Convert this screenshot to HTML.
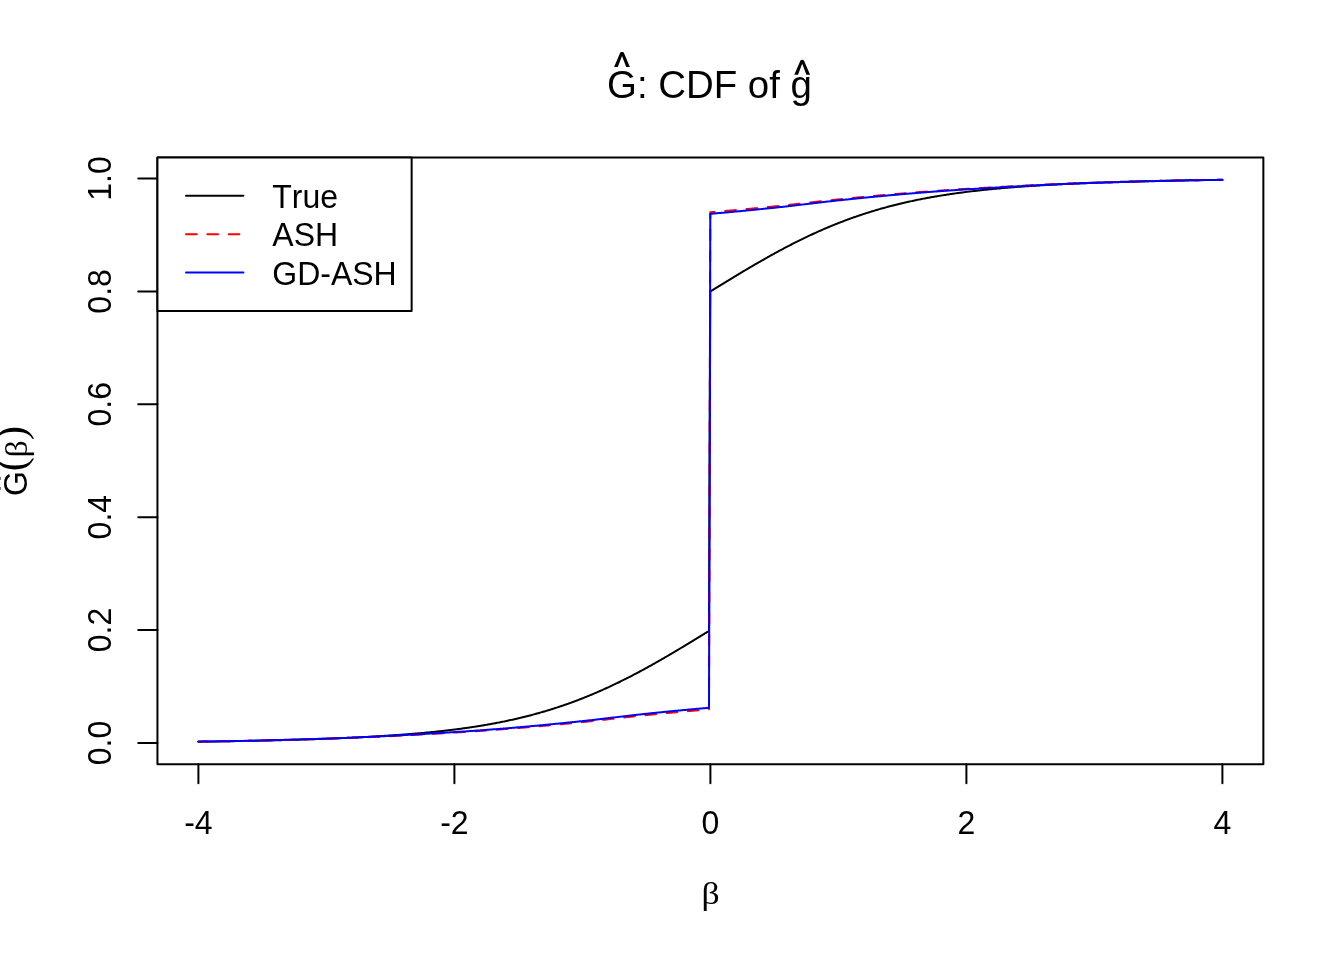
<!DOCTYPE html>
<html><head><meta charset="utf-8"><style>
html,body{margin:0;padding:0;background:#fff;}
svg{display:block;}
text{font-family:"Liberation Sans",sans-serif;font-size:32px;fill:#000;font-kerning:none;font-feature-settings:"kern" 0,"liga" 0;}
</style></head><body>
<svg width="1344" height="960" viewBox="0 0 1344 960">
<rect width="1344" height="960" fill="#fff"/>
<g fill="none" stroke-linecap="round" stroke-linejoin="round" stroke-width="2">
<path d="M198.40,741.68 L199.42,741.66 L200.45,741.65 L201.47,741.64 L202.49,741.62 L203.52,741.61 L204.54,741.60 L205.56,741.58 L206.59,741.57 L207.61,741.55 L208.63,741.54 L209.66,741.52 L210.68,741.51 L211.70,741.50 L212.73,741.48 L213.75,741.47 L214.77,741.45 L215.80,741.44 L216.82,741.42 L217.84,741.40 L218.86,741.39 L219.89,741.37 L220.91,741.36 L221.93,741.34 L222.96,741.33 L223.98,741.31 L225.00,741.29 L226.03,741.28 L227.05,741.26 L228.07,741.24 L229.10,741.22 L230.12,741.21 L231.14,741.19 L232.17,741.17 L233.19,741.16 L234.21,741.14 L235.24,741.12 L236.26,741.10 L237.28,741.08 L238.31,741.06 L239.33,741.05 L240.35,741.03 L241.38,741.01 L242.40,740.99 L243.42,740.97 L244.45,740.95 L245.47,740.93 L246.49,740.91 L247.52,740.89 L248.54,740.87 L249.56,740.85 L250.59,740.83 L251.61,740.81 L252.63,740.79 L253.66,740.77 L254.68,740.75 L255.70,740.73 L256.73,740.70 L257.75,740.68 L258.77,740.66 L259.79,740.64 L260.82,740.62 L261.84,740.59 L262.86,740.57 L263.89,740.55 L264.91,740.53 L265.93,740.50 L266.96,740.48 L267.98,740.46 L269.00,740.43 L270.03,740.41 L271.05,740.38 L272.07,740.36 L273.10,740.33 L274.12,740.31 L275.14,740.28 L276.17,740.26 L277.19,740.23 L278.21,740.21 L279.24,740.18 L280.26,740.16 L281.28,740.13 L282.31,740.10 L283.33,740.08 L284.35,740.05 L285.38,740.02 L286.40,739.99 L287.42,739.97 L288.45,739.94 L289.47,739.91 L290.49,739.88 L291.52,739.85 L292.54,739.83 L293.56,739.80 L294.59,739.77 L295.61,739.74 L296.63,739.71 L297.65,739.68 L298.68,739.65 L299.70,739.62 L300.72,739.59 L301.75,739.55 L302.77,739.52 L303.79,739.49 L304.82,739.46 L305.84,739.43 L306.86,739.39 L307.89,739.36 L308.91,739.33 L309.93,739.30 L310.96,739.26 L311.98,739.23 L313.00,739.19 L314.03,739.16 L315.05,739.12 L316.07,739.09 L317.10,739.05 L318.12,739.02 L319.14,738.98 L320.17,738.95 L321.19,738.91 L322.21,738.87 L323.24,738.83 L324.26,738.80 L325.28,738.76 L326.31,738.72 L327.33,738.68 L328.35,738.64 L329.38,738.60 L330.40,738.56 L331.42,738.52 L332.45,738.48 L333.47,738.44 L334.49,738.40 L335.52,738.36 L336.54,738.32 L337.56,738.28 L338.58,738.23 L339.61,738.19 L340.63,738.15 L341.65,738.10 L342.68,738.06 L343.70,738.02 L344.72,737.97 L345.75,737.93 L346.77,737.88 L347.79,737.83 L348.82,737.79 L349.84,737.74 L350.86,737.69 L351.89,737.65 L352.91,737.60 L353.93,737.55 L354.96,737.50 L355.98,737.45 L357.00,737.40 L358.03,737.35 L359.05,737.30 L360.07,737.25 L361.10,737.20 L362.12,737.14 L363.14,737.09 L364.17,737.04 L365.19,736.98 L366.21,736.93 L367.24,736.88 L368.26,736.82 L369.28,736.76 L370.31,736.71 L371.33,736.65 L372.35,736.59 L373.38,736.54 L374.40,736.48 L375.42,736.42 L376.44,736.36 L377.47,736.30 L378.49,736.24 L379.51,736.18 L380.54,736.11 L381.56,736.05 L382.58,735.99 L383.61,735.93 L384.63,735.86 L385.65,735.80 L386.68,735.73 L387.70,735.66 L388.72,735.60 L389.75,735.53 L390.77,735.46 L391.79,735.39 L392.82,735.32 L393.84,735.25 L394.86,735.18 L395.89,735.11 L396.91,735.04 L397.93,734.97 L398.96,734.89 L399.98,734.82 L401.00,734.74 L402.03,734.67 L403.05,734.59 L404.07,734.51 L405.10,734.43 L406.12,734.36 L407.14,734.28 L408.17,734.19 L409.19,734.11 L410.21,734.03 L411.24,733.95 L412.26,733.86 L413.28,733.78 L414.31,733.69 L415.33,733.61 L416.35,733.52 L417.37,733.43 L418.40,733.34 L419.42,733.25 L420.44,733.16 L421.47,733.07 L422.49,732.98 L423.51,732.88 L424.54,732.79 L425.56,732.69 L426.58,732.60 L427.61,732.50 L428.63,732.40 L429.65,732.30 L430.68,732.20 L431.70,732.10 L432.72,731.99 L433.75,731.89 L434.77,731.79 L435.79,731.68 L436.82,731.57 L437.84,731.46 L438.86,731.35 L439.89,731.24 L440.91,731.13 L441.93,731.02 L442.96,730.91 L443.98,730.79 L445.00,730.67 L446.03,730.56 L447.05,730.44 L448.07,730.32 L449.10,730.20 L450.12,730.07 L451.14,729.95 L452.17,729.82 L453.19,729.70 L454.21,729.57 L455.23,729.44 L456.26,729.31 L457.28,729.18 L458.30,729.05 L459.33,728.91 L460.35,728.78 L461.37,728.64 L462.40,728.50 L463.42,728.36 L464.44,728.22 L465.47,728.07 L466.49,727.93 L467.51,727.78 L468.54,727.64 L469.56,727.49 L470.58,727.34 L471.61,727.18 L472.63,727.03 L473.65,726.88 L474.68,726.72 L475.70,726.56 L476.72,726.40 L477.75,726.24 L478.77,726.07 L479.79,725.91 L480.82,725.74 L481.84,725.57 L482.86,725.40 L483.89,725.23 L484.91,725.06 L485.93,724.88 L486.96,724.70 L487.98,724.53 L489.00,724.34 L490.03,724.16 L491.05,723.98 L492.07,723.79 L493.09,723.60 L494.12,723.41 L495.14,723.22 L496.16,723.03 L497.19,722.83 L498.21,722.63 L499.23,722.43 L500.26,722.23 L501.28,722.03 L502.30,721.82 L503.33,721.61 L504.35,721.40 L505.37,721.19 L506.40,720.98 L507.42,720.76 L508.44,720.54 L509.47,720.32 L510.49,720.10 L511.51,719.87 L512.54,719.65 L513.56,719.42 L514.58,719.19 L515.61,718.95 L516.63,718.72 L517.65,718.48 L518.68,718.24 L519.70,718.00 L520.72,717.75 L521.75,717.51 L522.77,717.26 L523.79,717.01 L524.82,716.75 L525.84,716.50 L526.86,716.24 L527.89,715.98 L528.91,715.71 L529.93,715.45 L530.96,715.18 L531.98,714.91 L533.00,714.64 L534.02,714.36 L535.05,714.08 L536.07,713.80 L537.09,713.52 L538.12,713.24 L539.14,712.95 L540.16,712.66 L541.19,712.36 L542.21,712.07 L543.23,711.77 L544.26,711.47 L545.28,711.17 L546.30,710.86 L547.33,710.55 L548.35,710.24 L549.37,709.93 L550.40,709.61 L551.42,709.30 L552.44,708.97 L553.47,708.65 L554.49,708.32 L555.51,707.99 L556.54,707.66 L557.56,707.33 L558.58,706.99 L559.61,706.65 L560.63,706.31 L561.65,705.96 L562.68,705.61 L563.70,705.26 L564.72,704.91 L565.75,704.55 L566.77,704.19 L567.79,703.83 L568.82,703.47 L569.84,703.10 L570.86,702.73 L571.88,702.36 L572.91,701.98 L573.93,701.60 L574.95,701.22 L575.98,700.84 L577.00,700.45 L578.02,700.06 L579.05,699.67 L580.07,699.28 L581.09,698.88 L582.12,698.48 L583.14,698.07 L584.16,697.67 L585.19,697.26 L586.21,696.85 L587.23,696.43 L588.26,696.02 L589.28,695.60 L590.30,695.17 L591.33,694.75 L592.35,694.32 L593.37,693.89 L594.40,693.45 L595.42,693.02 L596.44,692.58 L597.47,692.14 L598.49,691.69 L599.51,691.24 L600.54,690.79 L601.56,690.34 L602.58,689.88 L603.61,689.43 L604.63,688.96 L605.65,688.50 L606.68,688.03 L607.70,687.56 L608.72,687.09 L609.75,686.62 L610.77,686.14 L611.79,685.66 L612.81,685.18 L613.84,684.69 L614.86,684.20 L615.88,683.71 L616.91,683.22 L617.93,682.73 L618.95,682.23 L619.98,681.73 L621.00,681.22 L622.02,680.72 L623.05,680.21 L624.07,679.70 L625.09,679.19 L626.12,678.67 L627.14,678.15 L628.16,677.63 L629.19,677.11 L630.21,676.58 L631.23,676.06 L632.26,675.53 L633.28,674.99 L634.30,674.46 L635.33,673.92 L636.35,673.38 L637.37,672.84 L638.40,672.30 L639.42,671.75 L640.44,671.20 L641.47,670.65 L642.49,670.10 L643.51,669.55 L644.54,668.99 L645.56,668.43 L646.58,667.87 L647.61,667.31 L648.63,666.74 L649.65,666.18 L650.67,665.61 L651.70,665.04 L652.72,664.46 L653.74,663.89 L654.77,663.31 L655.79,662.73 L656.81,662.15 L657.84,661.57 L658.86,660.99 L659.88,660.40 L660.91,659.82 L661.93,659.23 L662.95,658.64 L663.98,658.05 L665.00,657.45 L666.02,656.86 L667.05,656.26 L668.07,655.66 L669.09,655.07 L670.12,654.46 L671.14,653.86 L672.16,653.26 L673.19,652.65 L674.21,652.05 L675.23,651.44 L676.26,650.83 L677.28,650.22 L678.30,649.61 L679.33,649.00 L680.35,648.39 L681.37,647.77 L682.40,647.16 L683.42,646.54 L684.44,645.92 L685.47,645.31 L686.49,644.69 L687.51,644.07 L688.54,643.45 L689.56,642.83 L690.58,642.20 L691.60,641.58 L692.63,640.96 L693.65,640.33 L694.67,639.71 L695.70,639.08 L696.72,638.46 L697.74,637.83 L698.77,637.21 L699.79,636.58 L700.81,635.95 L701.84,635.32 L702.86,634.69 L703.88,634.07 L704.91,633.44 L705.93,632.81 L706.95,632.18 L707.98,631.55 L709.00,630.92 L710.30,291.42 L711.33,290.85 L712.35,290.22 L713.38,289.59 L714.41,288.96 L715.43,288.33 L716.46,287.70 L717.48,287.07 L718.51,286.44 L719.54,285.81 L720.56,285.18 L721.59,284.55 L722.62,283.92 L723.64,283.29 L724.67,282.66 L725.69,282.03 L726.72,281.41 L727.75,280.78 L728.77,280.16 L729.80,279.53 L730.83,278.91 L731.85,278.28 L732.88,277.66 L733.90,277.04 L734.93,276.42 L735.96,275.80 L736.98,275.18 L738.01,274.56 L739.04,273.94 L740.06,273.33 L741.09,272.71 L742.11,272.10 L743.14,271.48 L744.17,270.87 L745.19,270.26 L746.22,269.65 L747.25,269.04 L748.27,268.44 L749.30,267.83 L750.32,267.23 L751.35,266.62 L752.38,266.02 L753.40,265.42 L754.43,264.82 L755.46,264.23 L756.48,263.63 L757.51,263.04 L758.53,262.44 L759.56,261.85 L760.59,261.26 L761.61,260.68 L762.64,260.09 L763.67,259.51 L764.69,258.93 L765.72,258.34 L766.74,257.77 L767.77,257.19 L768.80,256.61 L769.82,256.04 L770.85,255.47 L771.88,254.90 L772.90,254.33 L773.93,253.77 L774.95,253.21 L775.98,252.65 L777.01,252.09 L778.03,251.53 L779.06,250.98 L780.09,250.42 L781.11,249.87 L782.14,249.32 L783.16,248.78 L784.19,248.23 L785.22,247.69 L786.24,247.15 L787.27,246.62 L788.30,246.08 L789.32,245.55 L790.35,245.02 L791.37,244.49 L792.40,243.97 L793.43,243.45 L794.45,242.93 L795.48,242.41 L796.51,241.89 L797.53,241.38 L798.56,240.87 L799.58,240.36 L800.61,239.86 L801.64,239.35 L802.66,238.85 L803.69,238.36 L804.72,237.86 L805.74,237.37 L806.77,236.88 L807.79,236.39 L808.82,235.91 L809.85,235.43 L810.87,234.95 L811.90,234.47 L812.93,234.00 L813.95,233.53 L814.98,233.06 L816.00,232.59 L817.03,232.13 L818.06,231.67 L819.08,231.21 L820.11,230.76 L821.14,230.30 L822.16,229.85 L823.19,229.41 L824.21,228.96 L825.24,228.52 L826.27,228.08 L827.29,227.65 L828.32,227.22 L829.35,226.79 L830.37,226.36 L831.40,225.93 L832.42,225.51 L833.45,225.09 L834.48,224.68 L835.50,224.26 L836.53,223.85 L837.56,223.45 L838.58,223.04 L839.61,222.64 L840.63,222.24 L841.66,221.84 L842.69,221.45 L843.71,221.06 L844.74,220.67 L845.77,220.29 L846.79,219.90 L847.82,219.52 L848.84,219.15 L849.87,218.77 L850.90,218.40 L851.92,218.03 L852.95,217.67 L853.98,217.31 L855.00,216.94 L856.03,216.59 L857.05,216.23 L858.08,215.88 L859.11,215.53 L860.13,215.18 L861.16,214.84 L862.19,214.50 L863.21,214.16 L864.24,213.83 L865.26,213.49 L866.29,213.16 L867.32,212.84 L868.34,212.51 L869.37,212.19 L870.40,211.87 L871.42,211.55 L872.45,211.24 L873.47,210.93 L874.50,210.62 L875.53,210.31 L876.55,210.01 L877.58,209.70 L878.61,209.41 L879.63,209.11 L880.66,208.82 L881.68,208.53 L882.71,208.24 L883.74,207.95 L884.76,207.67 L885.79,207.39 L886.82,207.11 L887.84,206.83 L888.87,206.56 L889.89,206.29 L890.92,206.02 L891.95,205.75 L892.97,205.49 L894.00,205.23 L895.03,204.97 L896.05,204.71 L897.08,204.46 L898.10,204.20 L899.13,203.95 L900.16,203.71 L901.18,203.46 L902.21,203.22 L903.24,202.98 L904.26,202.74 L905.29,202.50 L906.31,202.27 L907.34,202.04 L908.37,201.81 L909.39,201.58 L910.42,201.36 L911.45,201.13 L912.47,200.91 L913.50,200.70 L914.52,200.48 L915.55,200.26 L916.58,200.05 L917.60,199.84 L918.63,199.63 L919.66,199.43 L920.68,199.22 L921.71,199.02 L922.73,198.82 L923.76,198.62 L924.79,198.43 L925.81,198.23 L926.84,198.04 L927.87,197.85 L928.89,197.66 L929.92,197.47 L930.94,197.29 L931.97,197.11 L933.00,196.92 L934.02,196.74 L935.05,196.57 L936.08,196.39 L937.10,196.22 L938.13,196.05 L939.15,195.87 L940.18,195.71 L941.21,195.54 L942.23,195.37 L943.26,195.21 L944.29,195.05 L945.31,194.89 L946.34,194.73 L947.36,194.57 L948.39,194.42 L949.42,194.26 L950.44,194.11 L951.47,193.96 L952.50,193.81 L953.52,193.66 L954.55,193.52 L955.57,193.37 L956.60,193.23 L957.63,193.09 L958.65,192.95 L959.68,192.81 L960.71,192.67 L961.73,192.53 L962.76,192.40 L963.78,192.27 L964.81,192.13 L965.84,192.00 L966.86,191.87 L967.89,191.75 L968.92,191.62 L969.94,191.50 L970.97,191.37 L971.99,191.25 L973.02,191.13 L974.05,191.01 L975.07,190.89 L976.10,190.77 L977.13,190.65 L978.15,190.54 L979.18,190.43 L980.20,190.31 L981.23,190.20 L982.26,190.09 L983.28,189.98 L984.31,189.87 L985.34,189.77 L986.36,189.66 L987.39,189.56 L988.41,189.45 L989.44,189.35 L990.47,189.25 L991.49,189.15 L992.52,189.05 L993.55,188.95 L994.57,188.85 L995.60,188.75 L996.62,188.66 L997.65,188.56 L998.68,188.47 L999.70,188.38 L1000.73,188.28 L1001.76,188.19 L1002.78,188.10 L1003.81,188.01 L1004.83,187.93 L1005.86,187.84 L1006.89,187.75 L1007.91,187.67 L1008.94,187.58 L1009.97,187.50 L1010.99,187.42 L1012.02,187.33 L1013.04,187.25 L1014.07,187.17 L1015.10,187.09 L1016.12,187.01 L1017.15,186.94 L1018.18,186.86 L1019.20,186.78 L1020.23,186.71 L1021.25,186.63 L1022.28,186.56 L1023.31,186.48 L1024.33,186.41 L1025.36,186.34 L1026.39,186.27 L1027.41,186.20 L1028.44,186.13 L1029.46,186.06 L1030.49,185.99 L1031.52,185.92 L1032.54,185.85 L1033.57,185.78 L1034.60,185.72 L1035.62,185.65 L1036.65,185.59 L1037.67,185.52 L1038.70,185.46 L1039.73,185.40 L1040.75,185.34 L1041.78,185.27 L1042.81,185.21 L1043.83,185.15 L1044.86,185.09 L1045.88,185.03 L1046.91,184.97 L1047.94,184.91 L1048.96,184.86 L1049.99,184.80 L1051.02,184.74 L1052.04,184.69 L1053.07,184.63 L1054.09,184.58 L1055.12,184.52 L1056.15,184.47 L1057.17,184.41 L1058.20,184.36 L1059.23,184.31 L1060.25,184.26 L1061.28,184.20 L1062.30,184.15 L1063.33,184.10 L1064.36,184.05 L1065.38,184.00 L1066.41,183.95 L1067.44,183.90 L1068.46,183.85 L1069.49,183.81 L1070.51,183.76 L1071.54,183.71 L1072.57,183.67 L1073.59,183.62 L1074.62,183.57 L1075.65,183.53 L1076.67,183.48 L1077.70,183.44 L1078.72,183.39 L1079.75,183.35 L1080.78,183.31 L1081.80,183.26 L1082.83,183.22 L1083.86,183.18 L1084.88,183.14 L1085.91,183.09 L1086.93,183.05 L1087.96,183.01 L1088.99,182.97 L1090.01,182.93 L1091.04,182.89 L1092.07,182.85 L1093.09,182.81 L1094.12,182.77 L1095.14,182.73 L1096.17,182.70 L1097.20,182.66 L1098.22,182.62 L1099.25,182.58 L1100.28,182.55 L1101.30,182.51 L1102.33,182.47 L1103.35,182.44 L1104.38,182.40 L1105.41,182.37 L1106.43,182.33 L1107.46,182.30 L1108.49,182.26 L1109.51,182.23 L1110.54,182.20 L1111.56,182.16 L1112.59,182.13 L1113.62,182.10 L1114.64,182.06 L1115.67,182.03 L1116.70,182.00 L1117.72,181.97 L1118.75,181.94 L1119.77,181.90 L1120.80,181.87 L1121.83,181.84 L1122.85,181.81 L1123.88,181.78 L1124.91,181.75 L1125.93,181.72 L1126.96,181.69 L1127.98,181.66 L1129.01,181.63 L1130.04,181.60 L1131.06,181.58 L1132.09,181.55 L1133.12,181.52 L1134.14,181.49 L1135.17,181.46 L1136.19,181.44 L1137.22,181.41 L1138.25,181.38 L1139.27,181.36 L1140.30,181.33 L1141.33,181.30 L1142.35,181.28 L1143.38,181.25 L1144.40,181.23 L1145.43,181.20 L1146.46,181.18 L1147.48,181.15 L1148.51,181.13 L1149.54,181.10 L1150.56,181.08 L1151.59,181.05 L1152.61,181.03 L1153.64,181.01 L1154.67,180.98 L1155.69,180.96 L1156.72,180.94 L1157.75,180.91 L1158.77,180.89 L1159.80,180.87 L1160.82,180.85 L1161.85,180.82 L1162.88,180.80 L1163.90,180.78 L1164.93,180.76 L1165.96,180.74 L1166.98,180.72 L1168.01,180.69 L1169.03,180.67 L1170.06,180.65 L1171.09,180.63 L1172.11,180.61 L1173.14,180.59 L1174.17,180.57 L1175.19,180.55 L1176.22,180.53 L1177.24,180.51 L1178.27,180.49 L1179.30,180.47 L1180.32,180.45 L1181.35,180.44 L1182.38,180.42 L1183.40,180.40 L1184.43,180.38 L1185.45,180.36 L1186.48,180.34 L1187.51,180.33 L1188.53,180.31 L1189.56,180.29 L1190.59,180.27 L1191.61,180.26 L1192.64,180.24 L1193.66,180.22 L1194.69,180.21 L1195.72,180.19 L1196.74,180.17 L1197.77,180.16 L1198.80,180.14 L1199.82,180.12 L1200.85,180.11 L1201.87,180.09 L1202.90,180.08 L1203.93,180.06 L1204.95,180.05 L1205.98,180.03 L1207.01,180.01 L1208.03,180.00 L1209.06,179.98 L1210.08,179.97 L1211.11,179.96 L1212.14,179.94 L1213.16,179.93 L1214.19,179.91 L1215.22,179.90 L1216.24,179.88 L1217.27,179.87 L1218.29,179.86 L1219.32,179.84 L1220.35,179.83 L1221.37,179.82 L1222.40,179.80" stroke="#000"/>
<path d="M198.40,741.65 L199.42,741.64 L200.45,741.63 L201.47,741.62 L202.49,741.61 L203.52,741.60 L204.54,741.58 L205.56,741.57 L206.59,741.56 L207.61,741.55 L208.63,741.54 L209.66,741.52 L210.68,741.51 L211.70,741.50 L212.73,741.49 L213.75,741.47 L214.77,741.46 L215.80,741.44 L216.82,741.43 L217.84,741.42 L218.86,741.40 L219.89,741.39 L220.91,741.37 L221.93,741.35 L222.96,741.34 L223.98,741.32 L225.00,741.31 L226.03,741.29 L227.05,741.27 L228.07,741.26 L229.10,741.24 L230.12,741.22 L231.14,741.20 L232.17,741.19 L233.19,741.17 L234.21,741.15 L235.24,741.13 L236.26,741.11 L237.28,741.09 L238.31,741.07 L239.33,741.05 L240.35,741.03 L241.38,741.01 L242.40,740.99 L243.42,740.97 L244.45,740.95 L245.47,740.93 L246.49,740.91 L247.52,740.89 L248.54,740.87 L249.56,740.85 L250.59,740.82 L251.61,740.80 L252.63,740.78 L253.66,740.76 L254.68,740.74 L255.70,740.71 L256.73,740.69 L257.75,740.67 L258.77,740.64 L259.79,740.62 L260.82,740.60 L261.84,740.57 L262.86,740.55 L263.89,740.52 L264.91,740.50 L265.93,740.47 L266.96,740.45 L267.98,740.42 L269.00,740.40 L270.03,740.37 L271.05,740.35 L272.07,740.32 L273.10,740.30 L274.12,740.27 L275.14,740.25 L276.17,740.22 L277.19,740.19 L278.21,740.17 L279.24,740.14 L280.26,740.11 L281.28,740.09 L282.31,740.06 L283.33,740.03 L284.35,740.01 L285.38,739.98 L286.40,739.95 L287.42,739.92 L288.45,739.89 L289.47,739.87 L290.49,739.84 L291.52,739.81 L292.54,739.78 L293.56,739.75 L294.59,739.73 L295.61,739.70 L296.63,739.67 L297.65,739.64 L298.68,739.61 L299.70,739.58 L300.72,739.55 L301.75,739.52 L302.77,739.49 L303.79,739.46 L304.82,739.43 L305.84,739.40 L306.86,739.37 L307.89,739.34 L308.91,739.31 L309.93,739.28 L310.96,739.25 L311.98,739.22 L313.00,739.19 L314.03,739.16 L315.05,739.13 L316.07,739.10 L317.10,739.07 L318.12,739.04 L319.14,739.01 L320.17,738.98 L321.19,738.95 L322.21,738.92 L323.24,738.89 L324.26,738.85 L325.28,738.82 L326.31,738.79 L327.33,738.76 L328.35,738.73 L329.38,738.70 L330.40,738.66 L331.42,738.63 L332.45,738.60 L333.47,738.56 L334.49,738.53 L335.52,738.50 L336.54,738.46 L337.56,738.42 L338.58,738.39 L339.61,738.35 L340.63,738.32 L341.65,738.28 L342.68,738.24 L343.70,738.20 L344.72,738.17 L345.75,738.13 L346.77,738.09 L347.79,738.05 L348.82,738.01 L349.84,737.97 L350.86,737.93 L351.89,737.89 L352.91,737.85 L353.93,737.81 L354.96,737.77 L355.98,737.73 L357.00,737.68 L358.03,737.64 L359.05,737.60 L360.07,737.56 L361.10,737.51 L362.12,737.47 L363.14,737.42 L364.17,737.38 L365.19,737.33 L366.21,737.29 L367.24,737.24 L368.26,737.20 L369.28,737.15 L370.31,737.11 L371.33,737.06 L372.35,737.01 L373.38,736.97 L374.40,736.92 L375.42,736.87 L376.44,736.82 L377.47,736.78 L378.49,736.73 L379.51,736.68 L380.54,736.63 L381.56,736.58 L382.58,736.53 L383.61,736.48 L384.63,736.43 L385.65,736.38 L386.68,736.33 L387.70,736.28 L388.72,736.23 L389.75,736.18 L390.77,736.13 L391.79,736.08 L392.82,736.02 L393.84,735.97 L394.86,735.92 L395.89,735.87 L396.91,735.81 L397.93,735.76 L398.96,735.71 L399.98,735.66 L401.00,735.60 L402.03,735.55 L403.05,735.49 L404.07,735.44 L405.10,735.39 L406.12,735.33 L407.14,735.28 L408.17,735.22 L409.19,735.17 L410.21,735.11 L411.24,735.06 L412.26,735.00 L413.28,734.94 L414.31,734.89 L415.33,734.83 L416.35,734.78 L417.37,734.72 L418.40,734.66 L419.42,734.61 L420.44,734.55 L421.47,734.49 L422.49,734.43 L423.51,734.38 L424.54,734.32 L425.56,734.26 L426.58,734.20 L427.61,734.15 L428.63,734.09 L429.65,734.03 L430.68,733.97 L431.70,733.91 L432.72,733.85 L433.75,733.80 L434.77,733.74 L435.79,733.68 L436.82,733.62 L437.84,733.56 L438.86,733.50 L439.89,733.44 L440.91,733.38 L441.93,733.32 L442.96,733.26 L443.98,733.20 L445.00,733.14 L446.03,733.08 L447.05,733.02 L448.07,732.96 L449.10,732.90 L450.12,732.84 L451.14,732.78 L452.17,732.72 L453.19,732.66 L454.21,732.60 L455.23,732.54 L456.26,732.48 L457.28,732.42 L458.30,732.36 L459.33,732.29 L460.35,732.23 L461.37,732.17 L462.40,732.10 L463.42,732.04 L464.44,731.97 L465.47,731.91 L466.49,731.84 L467.51,731.78 L468.54,731.71 L469.56,731.64 L470.58,731.57 L471.61,731.51 L472.63,731.44 L473.65,731.37 L474.68,731.30 L475.70,731.23 L476.72,731.16 L477.75,731.09 L478.77,731.02 L479.79,730.95 L480.82,730.87 L481.84,730.80 L482.86,730.73 L483.89,730.66 L484.91,730.58 L485.93,730.51 L486.96,730.43 L487.98,730.36 L489.00,730.28 L490.03,730.21 L491.05,730.13 L492.07,730.06 L493.09,729.98 L494.12,729.91 L495.14,729.83 L496.16,729.75 L497.19,729.67 L498.21,729.60 L499.23,729.52 L500.26,729.44 L501.28,729.36 L502.30,729.28 L503.33,729.20 L504.35,729.12 L505.37,729.04 L506.40,728.96 L507.42,728.88 L508.44,728.80 L509.47,728.72 L510.49,728.64 L511.51,728.56 L512.54,728.48 L513.56,728.40 L514.58,728.32 L515.61,728.23 L516.63,728.15 L517.65,728.07 L518.68,727.99 L519.70,727.90 L520.72,727.82 L521.75,727.74 L522.77,727.65 L523.79,727.57 L524.82,727.48 L525.84,727.40 L526.86,727.31 L527.89,727.22 L528.91,727.13 L529.93,727.05 L530.96,726.96 L531.98,726.87 L533.00,726.78 L534.02,726.69 L535.05,726.60 L536.07,726.51 L537.09,726.42 L538.12,726.33 L539.14,726.24 L540.16,726.14 L541.19,726.05 L542.21,725.96 L543.23,725.86 L544.26,725.77 L545.28,725.68 L546.30,725.58 L547.33,725.49 L548.35,725.39 L549.37,725.30 L550.40,725.20 L551.42,725.11 L552.44,725.01 L553.47,724.91 L554.49,724.82 L555.51,724.72 L556.54,724.62 L557.56,724.52 L558.58,724.43 L559.61,724.33 L560.63,724.23 L561.65,724.13 L562.68,724.03 L563.70,723.93 L564.72,723.83 L565.75,723.73 L566.77,723.63 L567.79,723.53 L568.82,723.43 L569.84,723.33 L570.86,723.23 L571.88,723.13 L572.91,723.03 L573.93,722.93 L574.95,722.82 L575.98,722.72 L577.00,722.62 L578.02,722.52 L579.05,722.42 L580.07,722.31 L581.09,722.21 L582.12,722.11 L583.14,722.01 L584.16,721.90 L585.19,721.80 L586.21,721.69 L587.23,721.59 L588.26,721.48 L589.28,721.37 L590.30,721.26 L591.33,721.15 L592.35,721.04 L593.37,720.93 L594.40,720.82 L595.42,720.71 L596.44,720.60 L597.47,720.48 L598.49,720.37 L599.51,720.26 L600.54,720.14 L601.56,720.03 L602.58,719.91 L603.61,719.80 L604.63,719.68 L605.65,719.57 L606.68,719.45 L607.70,719.33 L608.72,719.22 L609.75,719.10 L610.77,718.98 L611.79,718.87 L612.81,718.75 L613.84,718.63 L614.86,718.52 L615.88,718.40 L616.91,718.28 L617.93,718.17 L618.95,718.05 L619.98,717.93 L621.00,717.82 L622.02,717.70 L623.05,717.58 L624.07,717.47 L625.09,717.35 L626.12,717.24 L627.14,717.12 L628.16,717.01 L629.19,716.90 L630.21,716.78 L631.23,716.67 L632.26,716.56 L633.28,716.45 L634.30,716.33 L635.33,716.22 L636.35,716.11 L637.37,716.00 L638.40,715.90 L639.42,715.79 L640.44,715.68 L641.47,715.57 L642.49,715.47 L643.51,715.36 L644.54,715.26 L645.56,715.16 L646.58,715.06 L647.61,714.95 L648.63,714.85 L649.65,714.75 L650.67,714.65 L651.70,714.55 L652.72,714.45 L653.74,714.35 L654.77,714.25 L655.79,714.15 L656.81,714.05 L657.84,713.95 L658.86,713.85 L659.88,713.76 L660.91,713.66 L661.93,713.56 L662.95,713.46 L663.98,713.36 L665.00,713.27 L666.02,713.17 L667.05,713.07 L668.07,712.98 L669.09,712.88 L670.12,712.79 L671.14,712.69 L672.16,712.60 L673.19,712.50 L674.21,712.41 L675.23,712.31 L676.26,712.22 L677.28,712.12 L678.30,712.03 L679.33,711.94 L680.35,711.84 L681.37,711.75 L682.40,711.66 L683.42,711.57 L684.44,711.48 L685.47,711.38 L686.49,711.29 L687.51,711.20 L688.54,711.11 L689.56,711.02 L690.58,710.93 L691.60,710.84 L692.63,710.75 L693.65,710.66 L694.67,710.58 L695.70,710.49 L696.72,710.40 L697.74,710.31 L698.77,710.22 L699.79,710.14 L700.81,710.05 L701.84,709.96 L702.86,709.88 L703.88,709.79 L704.91,709.71 L705.93,709.62 L706.95,709.54 L707.98,709.45 L709.00,709.37 L710.30,212.23 L711.33,212.15 L712.35,212.07 L713.38,211.98 L714.41,211.90 L715.43,211.81 L716.46,211.73 L717.48,211.64 L718.51,211.55 L719.54,211.47 L720.56,211.38 L721.59,211.29 L722.62,211.21 L723.64,211.12 L724.67,211.03 L725.69,210.94 L726.72,210.85 L727.75,210.76 L728.77,210.67 L729.80,210.58 L730.83,210.49 L731.85,210.40 L732.88,210.31 L733.90,210.22 L734.93,210.13 L735.96,210.04 L736.98,209.95 L738.01,209.86 L739.04,209.76 L740.06,209.67 L741.09,209.58 L742.11,209.48 L743.14,209.39 L744.17,209.30 L745.19,209.20 L746.22,209.11 L747.25,209.01 L748.27,208.92 L749.30,208.82 L750.32,208.73 L751.35,208.63 L752.38,208.54 L753.40,208.44 L754.43,208.34 L755.46,208.25 L756.48,208.15 L757.51,208.05 L758.53,207.95 L759.56,207.85 L760.59,207.76 L761.61,207.66 L762.64,207.56 L763.67,207.46 L764.69,207.36 L765.72,207.26 L766.74,207.16 L767.77,207.06 L768.80,206.96 L769.82,206.86 L770.85,206.76 L771.88,206.66 L772.90,206.56 L773.93,206.45 L774.95,206.35 L775.98,206.25 L777.01,206.14 L778.03,206.04 L779.06,205.93 L780.09,205.83 L781.11,205.72 L782.14,205.61 L783.16,205.50 L784.19,205.39 L785.22,205.28 L786.24,205.17 L787.27,205.06 L788.30,204.95 L789.32,204.84 L790.35,204.72 L791.37,204.61 L792.40,204.50 L793.43,204.38 L794.45,204.27 L795.48,204.15 L796.51,204.04 L797.53,203.92 L798.56,203.80 L799.58,203.69 L800.61,203.57 L801.64,203.45 L802.66,203.34 L803.69,203.22 L804.72,203.10 L805.74,202.99 L806.77,202.87 L807.79,202.75 L808.82,202.63 L809.85,202.52 L810.87,202.40 L811.90,202.28 L812.93,202.17 L813.95,202.05 L814.98,201.93 L816.00,201.82 L817.03,201.70 L818.06,201.58 L819.08,201.47 L820.11,201.35 L821.14,201.24 L822.16,201.13 L823.19,201.01 L824.21,200.90 L825.24,200.79 L826.27,200.67 L827.29,200.56 L828.32,200.45 L829.35,200.34 L830.37,200.23 L831.40,200.12 L832.42,200.01 L833.45,199.91 L834.48,199.80 L835.50,199.69 L836.53,199.59 L837.56,199.48 L838.58,199.38 L839.61,199.28 L840.63,199.18 L841.66,199.07 L842.69,198.97 L843.71,198.87 L844.74,198.77 L845.77,198.66 L846.79,198.56 L847.82,198.46 L848.84,198.36 L849.87,198.26 L850.90,198.16 L851.92,198.05 L852.95,197.95 L853.98,197.85 L855.00,197.75 L856.03,197.65 L857.05,197.55 L858.08,197.45 L859.11,197.35 L860.13,197.25 L861.16,197.16 L862.19,197.06 L863.21,196.96 L864.24,196.86 L865.26,196.76 L866.29,196.67 L867.32,196.57 L868.34,196.47 L869.37,196.37 L870.40,196.28 L871.42,196.18 L872.45,196.09 L873.47,195.99 L874.50,195.90 L875.53,195.80 L876.55,195.71 L877.58,195.61 L878.61,195.52 L879.63,195.43 L880.66,195.33 L881.68,195.24 L882.71,195.15 L883.74,195.06 L884.76,194.97 L885.79,194.88 L886.82,194.79 L887.84,194.70 L888.87,194.61 L889.89,194.52 L890.92,194.43 L891.95,194.34 L892.97,194.25 L894.00,194.17 L895.03,194.08 L896.05,193.99 L897.08,193.91 L898.10,193.82 L899.13,193.74 L900.16,193.65 L901.18,193.57 L902.21,193.49 L903.24,193.40 L904.26,193.32 L905.29,193.24 L906.31,193.16 L907.34,193.07 L908.37,192.99 L909.39,192.91 L910.42,192.83 L911.45,192.75 L912.47,192.67 L913.50,192.59 L914.52,192.51 L915.55,192.43 L916.58,192.35 L917.60,192.27 L918.63,192.19 L919.66,192.11 L920.68,192.03 L921.71,191.95 L922.73,191.87 L923.76,191.79 L924.79,191.72 L925.81,191.64 L926.84,191.56 L927.87,191.49 L928.89,191.41 L929.92,191.33 L930.94,191.26 L931.97,191.18 L933.00,191.11 L934.02,191.03 L935.05,190.96 L936.08,190.88 L937.10,190.81 L938.13,190.74 L939.15,190.67 L940.18,190.59 L941.21,190.52 L942.23,190.45 L943.26,190.38 L944.29,190.31 L945.31,190.24 L946.34,190.17 L947.36,190.10 L948.39,190.03 L949.42,189.96 L950.44,189.89 L951.47,189.82 L952.50,189.76 L953.52,189.69 L954.55,189.62 L955.57,189.56 L956.60,189.49 L957.63,189.43 L958.65,189.36 L959.68,189.30 L960.71,189.23 L961.73,189.17 L962.76,189.11 L963.78,189.04 L964.81,188.98 L965.84,188.92 L966.86,188.86 L967.89,188.80 L968.92,188.74 L969.94,188.68 L970.97,188.62 L971.99,188.56 L973.02,188.50 L974.05,188.44 L975.07,188.38 L976.10,188.32 L977.13,188.26 L978.15,188.20 L979.18,188.14 L980.20,188.08 L981.23,188.02 L982.26,187.96 L983.28,187.90 L984.31,187.84 L985.34,187.78 L986.36,187.72 L987.39,187.67 L988.41,187.61 L989.44,187.55 L990.47,187.49 L991.49,187.43 L992.52,187.37 L993.55,187.31 L994.57,187.26 L995.60,187.20 L996.62,187.14 L997.65,187.08 L998.68,187.03 L999.70,186.97 L1000.73,186.91 L1001.76,186.85 L1002.78,186.80 L1003.81,186.74 L1004.83,186.68 L1005.86,186.63 L1006.89,186.57 L1007.91,186.51 L1008.94,186.46 L1009.97,186.40 L1010.99,186.35 L1012.02,186.29 L1013.04,186.24 L1014.07,186.18 L1015.10,186.13 L1016.12,186.07 L1017.15,186.02 L1018.18,185.96 L1019.20,185.91 L1020.23,185.86 L1021.25,185.80 L1022.28,185.75 L1023.31,185.70 L1024.33,185.64 L1025.36,185.59 L1026.39,185.54 L1027.41,185.48 L1028.44,185.43 L1029.46,185.38 L1030.49,185.33 L1031.52,185.28 L1032.54,185.23 L1033.57,185.18 L1034.60,185.13 L1035.62,185.07 L1036.65,185.02 L1037.67,184.97 L1038.70,184.92 L1039.73,184.88 L1040.75,184.83 L1041.78,184.78 L1042.81,184.73 L1043.83,184.68 L1044.86,184.63 L1045.88,184.58 L1046.91,184.54 L1047.94,184.49 L1048.96,184.44 L1049.99,184.40 L1051.02,184.35 L1052.04,184.30 L1053.07,184.26 L1054.09,184.21 L1055.12,184.17 L1056.15,184.12 L1057.17,184.08 L1058.20,184.03 L1059.23,183.99 L1060.25,183.94 L1061.28,183.90 L1062.30,183.86 L1063.33,183.82 L1064.36,183.77 L1065.38,183.73 L1066.41,183.69 L1067.44,183.65 L1068.46,183.61 L1069.49,183.57 L1070.51,183.53 L1071.54,183.49 L1072.57,183.45 L1073.59,183.41 L1074.62,183.37 L1075.65,183.33 L1076.67,183.29 L1077.70,183.25 L1078.72,183.22 L1079.75,183.18 L1080.78,183.14 L1081.80,183.11 L1082.83,183.07 L1083.86,183.03 L1084.88,183.00 L1085.91,182.96 L1086.93,182.93 L1087.96,182.90 L1088.99,182.86 L1090.01,182.83 L1091.04,182.80 L1092.07,182.76 L1093.09,182.73 L1094.12,182.70 L1095.14,182.67 L1096.17,182.64 L1097.20,182.61 L1098.22,182.57 L1099.25,182.54 L1100.28,182.51 L1101.30,182.48 L1102.33,182.45 L1103.35,182.42 L1104.38,182.39 L1105.41,182.36 L1106.43,182.33 L1107.46,182.30 L1108.49,182.27 L1109.51,182.24 L1110.54,182.21 L1111.56,182.18 L1112.59,182.15 L1113.62,182.12 L1114.64,182.09 L1115.67,182.06 L1116.70,182.03 L1117.72,182.00 L1118.75,181.97 L1119.77,181.94 L1120.80,181.91 L1121.83,181.88 L1122.85,181.85 L1123.88,181.82 L1124.91,181.79 L1125.93,181.76 L1126.96,181.73 L1127.98,181.71 L1129.01,181.68 L1130.04,181.65 L1131.06,181.62 L1132.09,181.59 L1133.12,181.56 L1134.14,181.54 L1135.17,181.51 L1136.19,181.48 L1137.22,181.45 L1138.25,181.43 L1139.27,181.40 L1140.30,181.37 L1141.33,181.35 L1142.35,181.32 L1143.38,181.29 L1144.40,181.27 L1145.43,181.24 L1146.46,181.21 L1147.48,181.19 L1148.51,181.16 L1149.54,181.14 L1150.56,181.11 L1151.59,181.09 L1152.61,181.06 L1153.64,181.04 L1154.67,181.01 L1155.69,180.99 L1156.72,180.96 L1157.75,180.94 L1158.77,180.91 L1159.80,180.89 L1160.82,180.86 L1161.85,180.84 L1162.88,180.82 L1163.90,180.79 L1164.93,180.77 L1165.96,180.75 L1166.98,180.73 L1168.01,180.70 L1169.03,180.68 L1170.06,180.66 L1171.09,180.64 L1172.11,180.62 L1173.14,180.59 L1174.17,180.57 L1175.19,180.55 L1176.22,180.53 L1177.24,180.51 L1178.27,180.49 L1179.30,180.47 L1180.32,180.45 L1181.35,180.43 L1182.38,180.41 L1183.40,180.39 L1184.43,180.37 L1185.45,180.35 L1186.48,180.33 L1187.51,180.31 L1188.53,180.30 L1189.56,180.28 L1190.59,180.26 L1191.61,180.24 L1192.64,180.23 L1193.66,180.21 L1194.69,180.19 L1195.72,180.17 L1196.74,180.16 L1197.77,180.14 L1198.80,180.13 L1199.82,180.11 L1200.85,180.10 L1201.87,180.08 L1202.90,180.07 L1203.93,180.05 L1204.95,180.04 L1205.98,180.02 L1207.01,180.01 L1208.03,179.99 L1209.06,179.98 L1210.08,179.97 L1211.11,179.96 L1212.14,179.94 L1213.16,179.93 L1214.19,179.92 L1215.22,179.91 L1216.24,179.90 L1217.27,179.88 L1218.29,179.87 L1219.32,179.86 L1220.35,179.85 L1221.37,179.84 L1222.40,179.83" stroke="#ff0000" stroke-dasharray="10.667 10.667"/>
<path d="M198.40,741.59 L199.42,741.58 L200.45,741.56 L201.47,741.55 L202.49,741.54 L203.52,741.53 L204.54,741.52 L205.56,741.51 L206.59,741.50 L207.61,741.48 L208.63,741.47 L209.66,741.46 L210.68,741.44 L211.70,741.43 L212.73,741.42 L213.75,741.40 L214.77,741.39 L215.80,741.37 L216.82,741.36 L217.84,741.34 L218.86,741.33 L219.89,741.31 L220.91,741.30 L221.93,741.28 L222.96,741.26 L223.98,741.25 L225.00,741.23 L226.03,741.21 L227.05,741.19 L228.07,741.18 L229.10,741.16 L230.12,741.14 L231.14,741.12 L232.17,741.10 L233.19,741.08 L234.21,741.06 L235.24,741.05 L236.26,741.03 L237.28,741.01 L238.31,740.99 L239.33,740.96 L240.35,740.94 L241.38,740.92 L242.40,740.90 L243.42,740.88 L244.45,740.86 L245.47,740.84 L246.49,740.82 L247.52,740.79 L248.54,740.77 L249.56,740.75 L250.59,740.72 L251.61,740.70 L252.63,740.68 L253.66,740.66 L254.68,740.63 L255.70,740.61 L256.73,740.58 L257.75,740.56 L258.77,740.53 L259.79,740.51 L260.82,740.49 L261.84,740.46 L262.86,740.44 L263.89,740.41 L264.91,740.38 L265.93,740.36 L266.96,740.33 L267.98,740.31 L269.00,740.28 L270.03,740.25 L271.05,740.23 L272.07,740.20 L273.10,740.17 L274.12,740.15 L275.14,740.12 L276.17,740.09 L277.19,740.06 L278.21,740.04 L279.24,740.01 L280.26,739.98 L281.28,739.95 L282.31,739.92 L283.33,739.90 L284.35,739.87 L285.38,739.84 L286.40,739.81 L287.42,739.78 L288.45,739.75 L289.47,739.72 L290.49,739.69 L291.52,739.66 L292.54,739.63 L293.56,739.60 L294.59,739.57 L295.61,739.54 L296.63,739.51 L297.65,739.48 L298.68,739.45 L299.70,739.42 L300.72,739.39 L301.75,739.36 L302.77,739.33 L303.79,739.30 L304.82,739.27 L305.84,739.24 L306.86,739.21 L307.89,739.17 L308.91,739.14 L309.93,739.11 L310.96,739.08 L311.98,739.05 L313.00,739.02 L314.03,738.99 L315.05,738.95 L316.07,738.92 L317.10,738.89 L318.12,738.86 L319.14,738.82 L320.17,738.79 L321.19,738.76 L322.21,738.73 L323.24,738.70 L324.26,738.66 L325.28,738.63 L326.31,738.60 L327.33,738.56 L328.35,738.53 L329.38,738.50 L330.40,738.46 L331.42,738.43 L332.45,738.39 L333.47,738.36 L334.49,738.32 L335.52,738.29 L336.54,738.25 L337.56,738.21 L338.58,738.17 L339.61,738.14 L340.63,738.10 L341.65,738.06 L342.68,738.02 L343.70,737.98 L344.72,737.94 L345.75,737.90 L346.77,737.86 L347.79,737.82 L348.82,737.78 L349.84,737.74 L350.86,737.70 L351.89,737.65 L352.91,737.61 L353.93,737.57 L354.96,737.52 L355.98,737.48 L357.00,737.44 L358.03,737.39 L359.05,737.35 L360.07,737.30 L361.10,737.26 L362.12,737.21 L363.14,737.16 L364.17,737.12 L365.19,737.07 L366.21,737.02 L367.24,736.98 L368.26,736.93 L369.28,736.88 L370.31,736.83 L371.33,736.78 L372.35,736.73 L373.38,736.69 L374.40,736.64 L375.42,736.59 L376.44,736.54 L377.47,736.49 L378.49,736.44 L379.51,736.38 L380.54,736.33 L381.56,736.28 L382.58,736.23 L383.61,736.18 L384.63,736.13 L385.65,736.07 L386.68,736.02 L387.70,735.97 L388.72,735.91 L389.75,735.86 L390.77,735.81 L391.79,735.75 L392.82,735.70 L393.84,735.64 L394.86,735.59 L395.89,735.53 L396.91,735.48 L397.93,735.42 L398.96,735.37 L399.98,735.31 L401.00,735.26 L402.03,735.20 L403.05,735.14 L404.07,735.09 L405.10,735.03 L406.12,734.97 L407.14,734.91 L408.17,734.86 L409.19,734.80 L410.21,734.74 L411.24,734.68 L412.26,734.63 L413.28,734.57 L414.31,734.51 L415.33,734.45 L416.35,734.39 L417.37,734.33 L418.40,734.27 L419.42,734.21 L420.44,734.15 L421.47,734.09 L422.49,734.03 L423.51,733.97 L424.54,733.91 L425.56,733.85 L426.58,733.79 L427.61,733.73 L428.63,733.67 L429.65,733.61 L430.68,733.55 L431.70,733.49 L432.72,733.43 L433.75,733.36 L434.77,733.30 L435.79,733.24 L436.82,733.18 L437.84,733.12 L438.86,733.06 L439.89,732.99 L440.91,732.93 L441.93,732.87 L442.96,732.81 L443.98,732.74 L445.00,732.68 L446.03,732.62 L447.05,732.56 L448.07,732.49 L449.10,732.43 L450.12,732.37 L451.14,732.30 L452.17,732.24 L453.19,732.18 L454.21,732.12 L455.23,732.05 L456.26,731.99 L457.28,731.92 L458.30,731.86 L459.33,731.79 L460.35,731.73 L461.37,731.66 L462.40,731.59 L463.42,731.53 L464.44,731.46 L465.47,731.39 L466.49,731.32 L467.51,731.25 L468.54,731.18 L469.56,731.11 L470.58,731.04 L471.61,730.97 L472.63,730.90 L473.65,730.82 L474.68,730.75 L475.70,730.68 L476.72,730.60 L477.75,730.53 L478.77,730.45 L479.79,730.38 L480.82,730.30 L481.84,730.23 L482.86,730.15 L483.89,730.08 L484.91,730.00 L485.93,729.92 L486.96,729.84 L487.98,729.77 L489.00,729.69 L490.03,729.61 L491.05,729.53 L492.07,729.45 L493.09,729.37 L494.12,729.29 L495.14,729.21 L496.16,729.13 L497.19,729.05 L498.21,728.97 L499.23,728.89 L500.26,728.80 L501.28,728.72 L502.30,728.64 L503.33,728.56 L504.35,728.47 L505.37,728.39 L506.40,728.31 L507.42,728.22 L508.44,728.14 L509.47,728.05 L510.49,727.97 L511.51,727.88 L512.54,727.80 L513.56,727.71 L514.58,727.63 L515.61,727.54 L516.63,727.46 L517.65,727.37 L518.68,727.28 L519.70,727.20 L520.72,727.11 L521.75,727.02 L522.77,726.93 L523.79,726.84 L524.82,726.75 L525.84,726.66 L526.86,726.57 L527.89,726.48 L528.91,726.39 L529.93,726.30 L530.96,726.21 L531.98,726.11 L533.00,726.02 L534.02,725.92 L535.05,725.83 L536.07,725.74 L537.09,725.64 L538.12,725.54 L539.14,725.45 L540.16,725.35 L541.19,725.26 L542.21,725.16 L543.23,725.06 L544.26,724.96 L545.28,724.86 L546.30,724.77 L547.33,724.67 L548.35,724.57 L549.37,724.47 L550.40,724.37 L551.42,724.27 L552.44,724.16 L553.47,724.06 L554.49,723.96 L555.51,723.86 L556.54,723.76 L557.56,723.66 L558.58,723.55 L559.61,723.45 L560.63,723.35 L561.65,723.24 L562.68,723.14 L563.70,723.04 L564.72,722.93 L565.75,722.83 L566.77,722.72 L567.79,722.62 L568.82,722.51 L569.84,722.41 L570.86,722.30 L571.88,722.20 L572.91,722.09 L573.93,721.98 L574.95,721.88 L575.98,721.77 L577.00,721.66 L578.02,721.56 L579.05,721.45 L580.07,721.34 L581.09,721.23 L582.12,721.13 L583.14,721.02 L584.16,720.91 L585.19,720.80 L586.21,720.69 L587.23,720.58 L588.26,720.47 L589.28,720.35 L590.30,720.24 L591.33,720.13 L592.35,720.01 L593.37,719.90 L594.40,719.78 L595.42,719.66 L596.44,719.54 L597.47,719.43 L598.49,719.31 L599.51,719.19 L600.54,719.07 L601.56,718.95 L602.58,718.83 L603.61,718.71 L604.63,718.59 L605.65,718.47 L606.68,718.34 L607.70,718.22 L608.72,718.10 L609.75,717.98 L610.77,717.86 L611.79,717.73 L612.81,717.61 L613.84,717.49 L614.86,717.37 L615.88,717.24 L616.91,717.12 L617.93,717.00 L618.95,716.88 L619.98,716.75 L621.00,716.63 L622.02,716.51 L623.05,716.39 L624.07,716.27 L625.09,716.15 L626.12,716.03 L627.14,715.91 L628.16,715.79 L629.19,715.67 L630.21,715.55 L631.23,715.43 L632.26,715.31 L633.28,715.20 L634.30,715.08 L635.33,714.96 L636.35,714.85 L637.37,714.74 L638.40,714.62 L639.42,714.51 L640.44,714.40 L641.47,714.29 L642.49,714.17 L643.51,714.06 L644.54,713.96 L645.56,713.85 L646.58,713.74 L647.61,713.64 L648.63,713.53 L649.65,713.42 L650.67,713.32 L651.70,713.21 L652.72,713.11 L653.74,713.00 L654.77,712.90 L655.79,712.79 L656.81,712.69 L657.84,712.59 L658.86,712.48 L659.88,712.38 L660.91,712.28 L661.93,712.18 L662.95,712.07 L663.98,711.97 L665.00,711.87 L666.02,711.77 L667.05,711.67 L668.07,711.57 L669.09,711.47 L670.12,711.37 L671.14,711.27 L672.16,711.17 L673.19,711.07 L674.21,710.97 L675.23,710.87 L676.26,710.77 L677.28,710.67 L678.30,710.57 L679.33,710.48 L680.35,710.38 L681.37,710.28 L682.40,710.19 L683.42,710.09 L684.44,709.99 L685.47,709.90 L686.49,709.80 L687.51,709.71 L688.54,709.61 L689.56,709.52 L690.58,709.42 L691.60,709.33 L692.63,709.24 L693.65,709.14 L694.67,709.05 L695.70,708.96 L696.72,708.87 L697.74,708.77 L698.77,708.68 L699.79,708.59 L700.81,708.50 L701.84,708.41 L702.86,708.32 L703.88,708.23 L704.91,708.14 L705.93,708.05 L706.95,707.96 L707.98,707.87 L709.00,707.79 L710.30,213.81 L711.33,213.74 L712.35,213.65 L713.38,213.56 L714.41,213.47 L715.43,213.38 L716.46,213.29 L717.48,213.20 L718.51,213.11 L719.54,213.02 L720.56,212.93 L721.59,212.84 L722.62,212.75 L723.64,212.65 L724.67,212.56 L725.69,212.47 L726.72,212.38 L727.75,212.28 L728.77,212.19 L729.80,212.09 L730.83,212.00 L731.85,211.91 L732.88,211.81 L733.90,211.72 L734.93,211.62 L735.96,211.52 L736.98,211.43 L738.01,211.33 L739.04,211.23 L740.06,211.14 L741.09,211.04 L742.11,210.94 L743.14,210.84 L744.17,210.75 L745.19,210.65 L746.22,210.55 L747.25,210.45 L748.27,210.35 L749.30,210.25 L750.32,210.15 L751.35,210.05 L752.38,209.95 L753.40,209.85 L754.43,209.75 L755.46,209.64 L756.48,209.54 L757.51,209.44 L758.53,209.34 L759.56,209.24 L760.59,209.13 L761.61,209.03 L762.64,208.93 L763.67,208.82 L764.69,208.72 L765.72,208.61 L766.74,208.51 L767.77,208.40 L768.80,208.30 L769.82,208.19 L770.85,208.09 L771.88,207.98 L772.90,207.88 L773.93,207.77 L774.95,207.66 L775.98,207.55 L777.01,207.45 L778.03,207.34 L779.06,207.22 L780.09,207.11 L781.11,207.00 L782.14,206.89 L783.16,206.77 L784.19,206.66 L785.22,206.54 L786.24,206.43 L787.27,206.31 L788.30,206.19 L789.32,206.08 L790.35,205.96 L791.37,205.84 L792.40,205.72 L793.43,205.60 L794.45,205.48 L795.48,205.36 L796.51,205.24 L797.53,205.12 L798.56,204.99 L799.58,204.87 L800.61,204.75 L801.64,204.63 L802.66,204.51 L803.69,204.38 L804.72,204.26 L805.74,204.14 L806.77,204.02 L807.79,203.89 L808.82,203.77 L809.85,203.65 L810.87,203.52 L811.90,203.40 L812.93,203.28 L813.95,203.16 L814.98,203.04 L816.00,202.91 L817.03,202.79 L818.06,202.67 L819.08,202.55 L820.11,202.43 L821.14,202.31 L822.16,202.19 L823.19,202.07 L824.21,201.95 L825.24,201.83 L826.27,201.72 L827.29,201.60 L828.32,201.48 L829.35,201.37 L830.37,201.25 L831.40,201.14 L832.42,201.03 L833.45,200.91 L834.48,200.80 L835.50,200.69 L836.53,200.58 L837.56,200.47 L838.58,200.36 L839.61,200.26 L840.63,200.15 L841.66,200.04 L842.69,199.93 L843.71,199.83 L844.74,199.72 L845.77,199.61 L846.79,199.51 L847.82,199.40 L848.84,199.29 L849.87,199.19 L850.90,199.08 L851.92,198.97 L852.95,198.87 L853.98,198.76 L855.00,198.66 L856.03,198.55 L857.05,198.45 L858.08,198.34 L859.11,198.24 L860.13,198.14 L861.16,198.03 L862.19,197.93 L863.21,197.83 L864.24,197.72 L865.26,197.62 L866.29,197.52 L867.32,197.42 L868.34,197.32 L869.37,197.22 L870.40,197.11 L871.42,197.01 L872.45,196.91 L873.47,196.81 L874.50,196.71 L875.53,196.62 L876.55,196.52 L877.58,196.42 L878.61,196.32 L879.63,196.22 L880.66,196.13 L881.68,196.03 L882.71,195.93 L883.74,195.84 L884.76,195.74 L885.79,195.65 L886.82,195.55 L887.84,195.46 L888.87,195.36 L889.89,195.27 L890.92,195.18 L891.95,195.09 L892.97,194.99 L894.00,194.90 L895.03,194.81 L896.05,194.72 L897.08,194.63 L898.10,194.54 L899.13,194.45 L900.16,194.36 L901.18,194.28 L902.21,194.19 L903.24,194.10 L904.26,194.02 L905.29,193.93 L906.31,193.84 L907.34,193.76 L908.37,193.67 L909.39,193.59 L910.42,193.50 L911.45,193.42 L912.47,193.33 L913.50,193.25 L914.52,193.16 L915.55,193.08 L916.58,193.00 L917.60,192.91 L918.63,192.83 L919.66,192.75 L920.68,192.66 L921.71,192.58 L922.73,192.50 L923.76,192.42 L924.79,192.34 L925.81,192.26 L926.84,192.18 L927.87,192.10 L928.89,192.02 L929.92,191.94 L930.94,191.86 L931.97,191.78 L933.00,191.70 L934.02,191.62 L935.05,191.54 L936.08,191.47 L937.10,191.39 L938.13,191.31 L939.15,191.24 L940.18,191.16 L941.21,191.09 L942.23,191.01 L943.26,190.94 L944.29,190.86 L945.31,190.79 L946.34,190.71 L947.36,190.64 L948.39,190.57 L949.42,190.50 L950.44,190.43 L951.47,190.35 L952.50,190.28 L953.52,190.21 L954.55,190.14 L955.57,190.08 L956.60,190.01 L957.63,189.94 L958.65,189.87 L959.68,189.80 L960.71,189.74 L961.73,189.67 L962.76,189.61 L963.78,189.54 L964.81,189.48 L965.84,189.41 L966.86,189.35 L967.89,189.28 L968.92,189.22 L969.94,189.16 L970.97,189.09 L971.99,189.03 L973.02,188.97 L974.05,188.91 L975.07,188.84 L976.10,188.78 L977.13,188.72 L978.15,188.65 L979.18,188.59 L980.20,188.53 L981.23,188.47 L982.26,188.40 L983.28,188.34 L984.31,188.28 L985.34,188.22 L986.36,188.16 L987.39,188.10 L988.41,188.03 L989.44,187.97 L990.47,187.91 L991.49,187.85 L992.52,187.79 L993.55,187.73 L994.57,187.67 L995.60,187.61 L996.62,187.55 L997.65,187.49 L998.68,187.43 L999.70,187.37 L1000.73,187.31 L1001.76,187.25 L1002.78,187.19 L1003.81,187.13 L1004.83,187.07 L1005.86,187.01 L1006.89,186.95 L1007.91,186.89 L1008.94,186.83 L1009.97,186.77 L1010.99,186.72 L1012.02,186.66 L1013.04,186.60 L1014.07,186.54 L1015.10,186.48 L1016.12,186.43 L1017.15,186.37 L1018.18,186.31 L1019.20,186.26 L1020.23,186.20 L1021.25,186.14 L1022.28,186.09 L1023.31,186.03 L1024.33,185.98 L1025.36,185.92 L1026.39,185.87 L1027.41,185.81 L1028.44,185.76 L1029.46,185.70 L1030.49,185.65 L1031.52,185.60 L1032.54,185.54 L1033.57,185.49 L1034.60,185.44 L1035.62,185.38 L1036.65,185.33 L1037.67,185.28 L1038.70,185.23 L1039.73,185.17 L1040.75,185.12 L1041.78,185.07 L1042.81,185.02 L1043.83,184.97 L1044.86,184.92 L1045.88,184.87 L1046.91,184.82 L1047.94,184.77 L1048.96,184.72 L1049.99,184.67 L1051.02,184.62 L1052.04,184.57 L1053.07,184.53 L1054.09,184.48 L1055.12,184.43 L1056.15,184.38 L1057.17,184.34 L1058.20,184.29 L1059.23,184.25 L1060.25,184.20 L1061.28,184.15 L1062.30,184.11 L1063.33,184.06 L1064.36,184.02 L1065.38,183.98 L1066.41,183.93 L1067.44,183.89 L1068.46,183.85 L1069.49,183.80 L1070.51,183.76 L1071.54,183.72 L1072.57,183.68 L1073.59,183.64 L1074.62,183.60 L1075.65,183.56 L1076.67,183.52 L1077.70,183.48 L1078.72,183.44 L1079.75,183.40 L1080.78,183.36 L1081.80,183.32 L1082.83,183.28 L1083.86,183.25 L1084.88,183.21 L1085.91,183.17 L1086.93,183.14 L1087.96,183.10 L1088.99,183.07 L1090.01,183.03 L1091.04,183.00 L1092.07,182.96 L1093.09,182.93 L1094.12,182.89 L1095.14,182.86 L1096.17,182.83 L1097.20,182.80 L1098.22,182.76 L1099.25,182.73 L1100.28,182.70 L1101.30,182.67 L1102.33,182.63 L1103.35,182.60 L1104.38,182.57 L1105.41,182.54 L1106.43,182.51 L1107.46,182.47 L1108.49,182.44 L1109.51,182.41 L1110.54,182.38 L1111.56,182.35 L1112.59,182.31 L1113.62,182.28 L1114.64,182.25 L1115.67,182.22 L1116.70,182.19 L1117.72,182.16 L1118.75,182.13 L1119.77,182.10 L1120.80,182.07 L1121.83,182.04 L1122.85,182.01 L1123.88,181.97 L1124.91,181.94 L1125.93,181.91 L1126.96,181.88 L1127.98,181.85 L1129.01,181.82 L1130.04,181.80 L1131.06,181.77 L1132.09,181.74 L1133.12,181.71 L1134.14,181.68 L1135.17,181.65 L1136.19,181.62 L1137.22,181.59 L1138.25,181.56 L1139.27,181.53 L1140.30,181.51 L1141.33,181.48 L1142.35,181.45 L1143.38,181.42 L1144.40,181.39 L1145.43,181.37 L1146.46,181.34 L1147.48,181.31 L1148.51,181.29 L1149.54,181.26 L1150.56,181.23 L1151.59,181.21 L1152.61,181.18 L1153.64,181.15 L1154.67,181.13 L1155.69,181.10 L1156.72,181.08 L1157.75,181.05 L1158.77,181.02 L1159.80,181.00 L1160.82,180.97 L1161.85,180.95 L1162.88,180.93 L1163.90,180.90 L1164.93,180.88 L1165.96,180.85 L1166.98,180.83 L1168.01,180.81 L1169.03,180.78 L1170.06,180.76 L1171.09,180.74 L1172.11,180.71 L1173.14,180.69 L1174.17,180.67 L1175.19,180.65 L1176.22,180.62 L1177.24,180.60 L1178.27,180.58 L1179.30,180.56 L1180.32,180.54 L1181.35,180.52 L1182.38,180.50 L1183.40,180.48 L1184.43,180.46 L1185.45,180.44 L1186.48,180.42 L1187.51,180.40 L1188.53,180.38 L1189.56,180.36 L1190.59,180.34 L1191.61,180.32 L1192.64,180.30 L1193.66,180.29 L1194.69,180.27 L1195.72,180.25 L1196.74,180.23 L1197.77,180.22 L1198.80,180.20 L1199.82,180.18 L1200.85,180.17 L1201.87,180.15 L1202.90,180.14 L1203.93,180.12 L1204.95,180.11 L1205.98,180.09 L1207.01,180.08 L1208.03,180.06 L1209.06,180.05 L1210.08,180.04 L1211.11,180.02 L1212.14,180.01 L1213.16,180.00 L1214.19,179.98 L1215.22,179.97 L1216.24,179.96 L1217.27,179.95 L1218.29,179.94 L1219.32,179.93 L1220.35,179.92 L1221.37,179.90 L1222.40,179.89" stroke="#0000ff"/>
</g>
<g stroke="#000" stroke-width="2" stroke-linecap="round" fill="none">
<rect x="157.44" y="157.44" width="1105.92" height="606.72" stroke-linejoin="round"/>
<line x1="198.40" y1="764.16" x2="198.40" y2="783.36"/><line x1="454.40" y1="764.16" x2="454.40" y2="783.36"/><line x1="710.40" y1="764.16" x2="710.40" y2="783.36"/><line x1="966.40" y1="764.16" x2="966.40" y2="783.36"/><line x1="1222.40" y1="764.16" x2="1222.40" y2="783.36"/><line x1="138.24" y1="742.94" x2="157.44" y2="742.94"/><line x1="138.24" y1="630.06" x2="157.44" y2="630.06"/><line x1="138.24" y1="517.18" x2="157.44" y2="517.18"/><line x1="138.24" y1="404.30" x2="157.44" y2="404.30"/><line x1="138.24" y1="291.42" x2="157.44" y2="291.42"/><line x1="138.24" y1="178.54" x2="157.44" y2="178.54"/>
<rect x="157.44" y="157.44" width="254.2" height="153.5" fill="#fff" stroke-linejoin="round"/>
<line x1="186" y1="195.8" x2="243.4" y2="195.8"/>
<line x1="186" y1="234.2" x2="243.4" y2="234.2" stroke="#ff0000" stroke-dasharray="10.667 10.667"/>
<line x1="186" y1="272.6" x2="243.4" y2="272.6" stroke="#0000ff"/>
</g>
<g style="filter:grayscale(1)">
<text transform="translate(198.40,833.9) scale(1,1.03)" text-anchor="middle">-4</text><text transform="translate(454.40,833.9) scale(1,1.03)" text-anchor="middle">-2</text><text transform="translate(710.40,833.9) scale(1,1.03)" text-anchor="middle">0</text><text transform="translate(966.40,833.9) scale(1,1.03)" text-anchor="middle">2</text><text transform="translate(1222.40,833.9) scale(1,1.03)" text-anchor="middle">4</text><text transform="translate(110.9,742.94) rotate(-90) scale(1,1.03)" text-anchor="middle">0.0</text><text transform="translate(110.9,630.06) rotate(-90) scale(1,1.03)" text-anchor="middle">0.2</text><text transform="translate(110.9,517.18) rotate(-90) scale(1,1.03)" text-anchor="middle">0.4</text><text transform="translate(110.9,404.30) rotate(-90) scale(1,1.03)" text-anchor="middle">0.6</text><text transform="translate(110.9,291.42) rotate(-90) scale(1,1.03)" text-anchor="middle">0.8</text><text transform="translate(110.9,178.54) rotate(-90) scale(1,1.03)" text-anchor="middle">1.0</text>
<text transform="translate(272.3,207.7) scale(1,1.03)">True</text>
<text transform="translate(272.3,246.1) scale(1,1.03)">ASH</text>
<text transform="translate(272.3,284.5) scale(1,1.03)">GD-ASH</text>
<text transform="translate(709.5,97.7) scale(1,1.03)" text-anchor="middle" style="font-size:38.4px">G: CDF of g</text>
<polygon points="614.10,66.90 620.25,52.50 621.12,52.00 622.00,51.90 622.88,52.00 623.75,52.50 629.90,66.90 626.20,66.90 622.00,55.90 617.80,66.90" fill="#000"/>
<polygon points="794.30,74.80 800.45,60.40 801.33,59.90 802.20,59.80 803.08,59.90 803.95,60.40 810.10,74.80 806.40,74.80 802.20,63.80 798.00,74.80" fill="#000"/>
<text transform="translate(710.6,903.9) scale(1.116,0.98)" text-anchor="middle" style="font-family:'Liberation Serif',serif;font-size:32px">β</text>
<text transform="translate(26.5,483.65) rotate(-90) scale(1,1.03)" text-anchor="middle">G</text>
<g transform="translate(0.5,483.4) rotate(-90)"><polygon points="-6.58,0.00 -1.46,-12.00 -0.73,-12.41 0.00,-12.49 0.73,-12.41 1.46,-12.00 6.58,0.00 3.50,0.00 0.00,-9.16 -3.50,0.00" fill="#000"/></g>
<text transform="translate(24.954,464.2) rotate(-90)" text-anchor="middle" style="font-family:'Liberation Serif',serif;font-size:42px">(</text>
<text transform="translate(26.6,448.8) rotate(-90) scale(1.06,0.98)" text-anchor="middle" style="font-family:'Liberation Serif',serif;font-size:32px">β</text>
<text transform="translate(24.954,433.05) rotate(-90)" text-anchor="middle" style="font-family:'Liberation Serif',serif;font-size:42px">)</text>
</g>
</svg>
</body></html>
